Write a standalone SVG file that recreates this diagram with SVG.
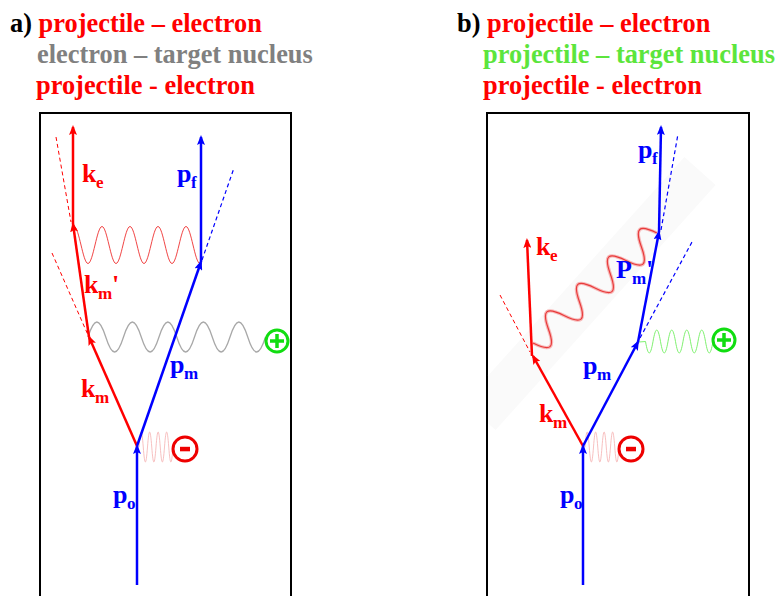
<svg xmlns="http://www.w3.org/2000/svg" width="778" height="596" viewBox="0 0 778 596">
<style>
.t{font-family:"Liberation Serif","Times New Roman",serif;font-weight:bold;font-size:26.4px}
.l{font-family:"Liberation Serif","Times New Roman",serif;font-weight:bold;font-size:26px}
.s{font-size:17px}
.box{fill:none;stroke:#000;stroke-width:2}
.vr{stroke:#f00;stroke-width:2.5;fill:none;marker-end:url(#ar)}
.vb{stroke:#00f;stroke-width:2.5;fill:none;marker-end:url(#ab)}
.dr{stroke:#f00;stroke-width:1;stroke-dasharray:4 3;fill:none}
.db{stroke:#00f;stroke-width:1.2;stroke-dasharray:4 3;fill:none}
.pink{stroke:#f5b0b0;stroke-width:0.8;fill:none}
.red{fill:#f00}
.blue{fill:#00f}
.plus{fill:none;stroke:#11dd11;stroke-width:3}
.minus{fill:none;stroke:#ee0000;stroke-width:3}
</style>
<defs>
<marker id="ar" markerWidth="10" markerHeight="8" refX="8" refY="4" orient="auto" markerUnits="userSpaceOnUse"><path d="M0,0 L10,4 L0,8 L2,4 z" fill="#f00"/></marker>
<marker id="ab" markerWidth="10" markerHeight="8" refX="8" refY="4" orient="auto" markerUnits="userSpaceOnUse"><path d="M0,0 L10,4 L0,8 L2,4 z" fill="#00f"/></marker>
</defs>
<rect width="778" height="596" fill="#fff"/>

<g id="titles">
<text class="t" x="10" y="32"><tspan fill="#000">a) </tspan><tspan fill="#f00">projectile – electron</tspan></text>
<text class="t" x="37" y="63" fill="#808080">electron – target nucleus</text>
<text class="t" x="36" y="94" fill="#f00">projectile - electron</text>
<text class="t" x="457" y="32"><tspan fill="#000">b) </tspan><tspan fill="#f00">projectile – electron</tspan></text>
<text class="t" x="483" y="63" fill="#5ce53c">projectile – target nucleus</text>
<text class="t" x="483" y="94" fill="#f00">projectile - electron</text>
</g>

<g id="panel-a">
<rect class="box" x="40" y="113" width="251" height="500"/>
<g id="a-waves">
<path d="M74,226.5 c5.09,0 8.91,37 14,37 s8.91,-37 14,-37 s8.91,37 14,37 s8.91,-37 14,-37 s8.91,37 14,37 s8.91,-37 14,-37 s8.91,37 14,37 s8.91,-37 14,-37 s8.91,37 14,37" fill="none" stroke="#ee3030" stroke-width="0.9"/>
<path d="M88,337 c6.39,-20 11.36,-20 17.75,0 s11.36,20 17.75,0 s11.36,-20 17.75,0 s11.36,20 17.75,0 s11.36,-20 17.75,0 s11.36,20 17.75,0 s11.36,-20 17.75,0 s11.36,20 17.75,0 s11.36,-20 17.75,0 s11.36,20 17.75,0" fill="none" stroke="#a8a8a8" stroke-width="1.3"/>
<path class="pink" d="M139,447 c1.53,-20 2.72,-20 4.25,0 s2.72,20 4.25,0 s2.72,-20 4.25,0 s2.72,20 4.25,0 s2.72,-20 4.25,0 s2.72,20 4.25,0 s2.72,-20 4.25,0 s2.72,20 4.25,0"/>
</g>
<g id="a-connectors">
<line class="dr" x1="56" y1="137" x2="71" y2="222"/>
<line class="dr" x1="52" y1="253" x2="88" y2="335"/>
<line class="db" x1="202" y1="260" x2="234" y2="168"/>
<line class="vb" x1="137" y1="585" x2="137" y2="446"/>
<line class="vr" x1="137" y1="446" x2="89" y2="337"/>
<line class="vr" x1="89" y1="337" x2="73" y2="224"/>
<line class="vr" x1="73" y1="224" x2="73" y2="127"/>
<line class="vb" x1="137" y1="446" x2="201" y2="262"/>
<line class="vb" x1="201" y1="262" x2="201" y2="137"/>
</g>
<g id="a-nucleus">
<circle class="plus" cx="277" cy="341" r="11"/>
<path d="M270,341 H284 M277,334 V348" stroke="#11dd11" stroke-width="3.5"/>
</g>
<g id="a-electron">
<circle class="minus" cx="185" cy="449" r="12"/>
<rect x="180" y="446.8" width="10" height="4.5" fill="#ee0000"/>
</g>
<g id="a-labels">
<text class="l red" x="82" y="182">k<tspan class="s" x="96" y="188">e</tspan></text>
<text class="l blue" x="177" y="182">p<tspan class="s" x="191" y="188">f</tspan></text>
<text class="l red" x="84" y="293">k<tspan class="s" x="98" y="299">m</tspan><tspan x="112" y="293">'</tspan></text>
<text class="l red" x="81" y="397">k<tspan class="s" x="95" y="403">m</tspan></text>
<text class="l blue" x="170" y="373">p<tspan class="s" x="184" y="379">m</tspan></text>
<text class="l blue" x="113" y="503">p<tspan class="s" x="127" y="509">o</tspan></text>
</g>
</g>

<g id="panel-b">
<rect class="box" x="487" y="113" width="262" height="500"/>
<polygon points="488,375.7 684.4,157 715.6,185 495.6,430 488,423.2" fill="#fafafa"/>
<g id="b-waves">
<g transform="translate(533,343) rotate(-41.6)">
<path d="M0,0 c7.45,18.7 13.25,18.7 20.7,0 s13.25,-18.7 20.7,0 s13.25,18.7 20.7,0 s13.25,-18.7 20.7,0 s13.25,18.7 20.7,0 s13.25,-18.7 20.7,0 s13.25,18.7 20.7,0 s13.25,-18.7 20.7,0" fill="none" stroke="#f7b8b8" stroke-width="3.5"/>
<path d="M0,0 c7.45,18.7 13.25,18.7 20.7,0 s13.25,-18.7 20.7,0 s13.25,18.7 20.7,0 s13.25,-18.7 20.7,0 s13.25,18.7 20.7,0 s13.25,-18.7 20.7,0 s13.25,18.7 20.7,0 s13.25,-18.7 20.7,0" fill="none" stroke="#e83a3a" stroke-width="1.2"/>
</g>
<path d="M639,342 L645.5,341.5 c2.7,15.3 4.8,15.3 7.5,0 s4.8,-15.3 7.5,0 s4.8,15.3 7.5,0 s4.8,-15.3 7.5,0 s4.8,15.3 7.5,0 s4.8,-15.3 7.5,0 s4.8,15.3 7.5,0 s4.8,-15.3 7.5,0 s4.8,15.3 7.5,0" fill="none" stroke="#70ee60" stroke-width="0.9"/>
<path class="pink" d="M585,447 c1.53,-20 2.72,-20 4.25,0 s2.72,20 4.25,0 s2.72,-20 4.25,0 s2.72,20 4.25,0 s2.72,-20 4.25,0 s2.72,20 4.25,0 s2.72,-20 4.25,0 s2.72,20 4.25,0"/>
</g>
<g id="b-connectors">
<line class="dr" x1="500" y1="295" x2="530" y2="352"/>
<line class="db" x1="661" y1="230" x2="678" y2="134"/>
<line class="db" x1="640" y1="338" x2="692" y2="242"/>
<line class="vb" x1="583" y1="585" x2="583" y2="446"/>
<line class="vr" x1="583" y1="446" x2="533" y2="356"/>
<line class="vr" x1="532" y1="356" x2="527" y2="240"/>
<line class="vb" x1="583" y1="446" x2="638" y2="342"/>
<line class="vb" x1="638" y1="342" x2="659" y2="232"/>
<line class="vb" x1="659" y1="232" x2="661" y2="127"/>
</g>
<g id="b-nucleus">
<circle class="plus" cx="724" cy="340" r="11"/>
<path d="M717,340 H731 M724,333 V347" stroke="#11dd11" stroke-width="3.5"/>
</g>
<g id="b-electron">
<circle class="minus" cx="631" cy="449" r="12"/>
<rect x="626" y="446.8" width="10" height="4.5" fill="#ee0000"/>
</g>
<g id="b-labels">
<text class="l red" x="536" y="255">k<tspan class="s" x="550" y="261">e</tspan></text>
<text class="l blue" x="638" y="158">p<tspan class="s" x="652" y="164">f</tspan></text>
<text class="l blue" x="616" y="278">P<tspan class="s" x="632" y="284">m</tspan><tspan x="646" y="278">'</tspan></text>
<text class="l blue" x="583" y="374">p<tspan class="s" x="597" y="380">m</tspan></text>
<text class="l red" x="539" y="422">k<tspan class="s" x="553" y="428">m</tspan></text>
<text class="l blue" x="560" y="503">p<tspan class="s" x="574" y="509">o</tspan></text>
</g>
</g>
</svg>
